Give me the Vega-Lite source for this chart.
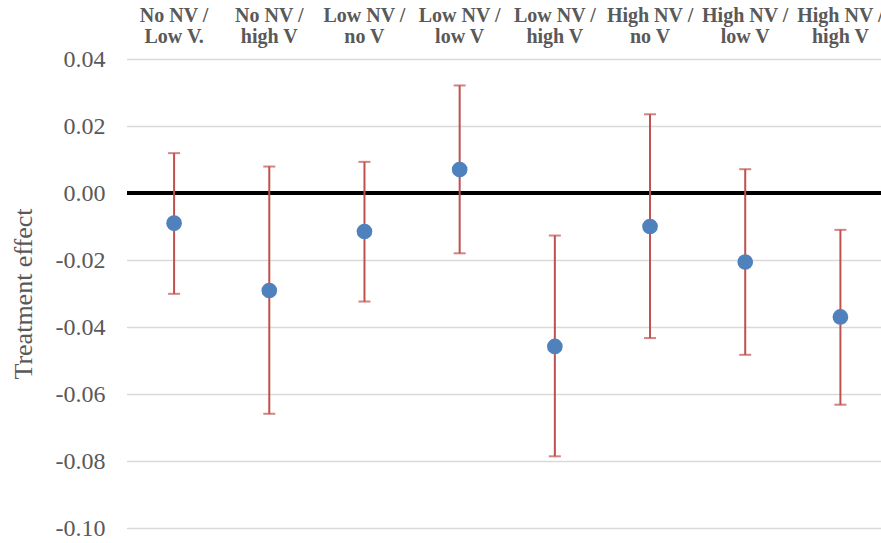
{
  "$schema": "https://vega.github.io/schema/vega-lite/v6.json",
  "width": 754,
  "height": 469,
  "autosize": {"type": "none"},
  "padding": {"left": 127, "top": 59, "right": 0, "bottom": 15},
  "background": "white",
  "config": {
    "view": {"stroke": null},
    "font": "Liberation Serif",
    "axis": {
      "labelFont": "Liberation Serif",
      "titleFont": "Liberation Serif",
      "labelColor": "#595959",
      "titleColor": "#595959"
    }
  },
  "data": {
    "values": [
      {"group": "No NV / Low V.", "effect": -0.0090, "lower": -0.0301, "upper": 0.0119},
      {"group": "No NV / high V", "effect": -0.0291, "lower": -0.0659, "upper": 0.0079},
      {"group": "Low NV / no V", "effect": -0.0115, "lower": -0.0324, "upper": 0.0093},
      {"group": "Low NV / low V", "effect": 0.0070, "lower": -0.0180, "upper": 0.0321},
      {"group": "Low NV / high V", "effect": -0.0458, "lower": -0.0786, "upper": -0.0127},
      {"group": "High NV / no V", "effect": -0.0100, "lower": -0.0433, "upper": 0.0235},
      {"group": "High NV / low V", "effect": -0.0206, "lower": -0.0483, "upper": 0.0071},
      {"group": "High NV / high V", "effect": -0.0370, "lower": -0.0632, "upper": -0.0110}
    ]
  },
  "encoding": {
    "x": {
      "field": "group",
      "type": "nominal",
      "sort": null,
      "scale": {"range": [-0.5, 761], "paddingInner": 0, "paddingOuter": 0},
      "axis": {
        "orient": "top",
        "title": null,
        "domain": false,
        "ticks": false,
        "grid": false,
        "labelAngle": 0,
        "labelFont": "Liberation Serif",
        "labelFontSize": 20,
        "labelFontWeight": "bold",
        "labelColor": "#595959",
        "labelLineHeight": 21.5,
        "labelPadding": 34,
        "labelExpr": "split(replace(datum.label, '/ ', '/|'), '|')"
      }
    }
  },
  "layer": [
    {
      "mark": {"type": "rule", "color": "black", "strokeWidth": 3},
      "encoding": {
        "x": null,
        "y": {
          "datum": 0,
          "type": "quantitative",
          "scale": {"domain": [-0.1, 0.04], "nice": false, "zero": false},
          "axis": {
            "title": "Treatment effect",
            "titleFont": "Liberation Serif",
            "titleFontSize": 26,
            "titleFontWeight": "normal",
            "titleColor": "#595959",
            "titlePadding": 19,
            "values": [-0.1, -0.08, -0.06, -0.04, -0.02, 0, 0.02, 0.04],
            "labelExpr": "replace(format(datum.value, '.2f'), '−', '-')",
            "labelFont": "Liberation Serif",
            "labelFontSize": 24,
            "labelColor": "#595959",
            "labelPadding": 22,
            "domain": false,
            "ticks": false,
            "grid": true,
            "gridColor": "#d9d9d9",
            "gridWidth": 1.5
          }
        }
      }
    },
    {
      "mark": {"type": "rule", "color": "#C0504D", "strokeWidth": 2},
      "encoding": {
        "y": {"field": "lower", "type": "quantitative", "title": "Treatment effect"},
        "y2": {"field": "upper"}
      }
    },
    {
      "mark": {"type": "tick", "color": "#C0504D", "thickness": 2, "size": 12, "orient": "horizontal"},
      "encoding": {
        "y": {"field": "lower", "type": "quantitative", "title": "Treatment effect"}
      }
    },
    {
      "mark": {"type": "tick", "color": "#C0504D", "thickness": 2, "size": 12, "orient": "horizontal"},
      "encoding": {
        "y": {"field": "upper", "type": "quantitative", "title": "Treatment effect"}
      }
    },
    {
      "mark": {"type": "point", "filled": true, "shape": "circle", "size": 245, "color": "#4F81BD", "opacity": 1},
      "encoding": {
        "y": {"field": "effect", "type": "quantitative", "title": "Treatment effect"}
      }
    }
  ]
}
